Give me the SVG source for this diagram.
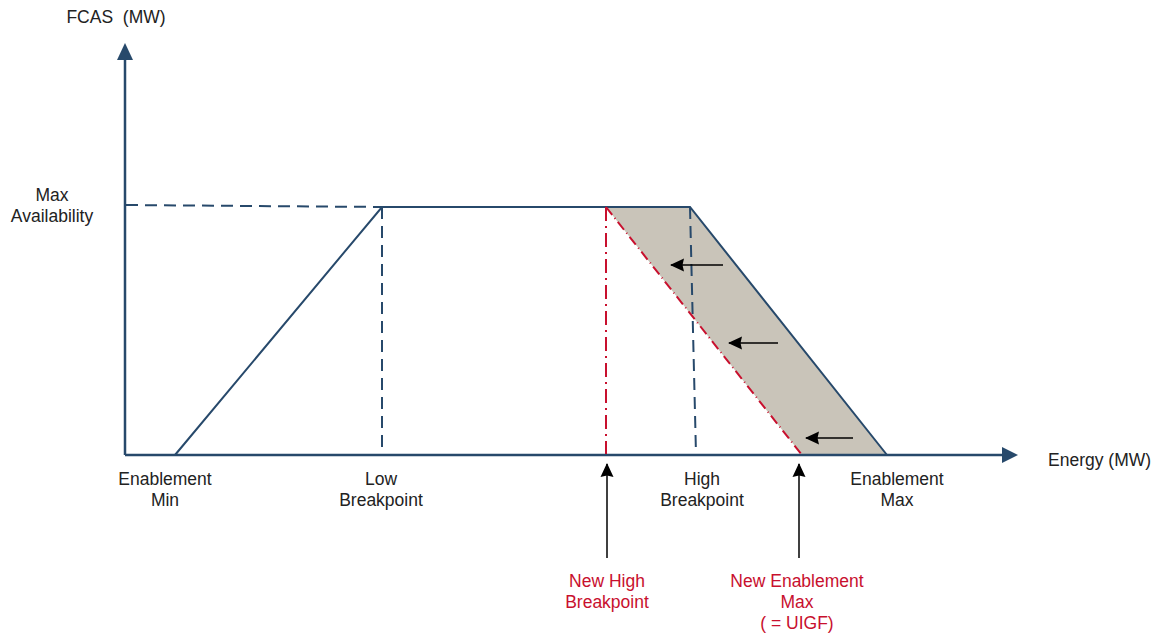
<svg xmlns="http://www.w3.org/2000/svg" width="1160" height="637" viewBox="0 0 1160 637">
<defs>
<style>
.ax{stroke:#27496b;stroke-width:2.5;fill:none}
.ln{stroke:#27496b;stroke-width:2;fill:none}
.dash{stroke:#27496b;stroke-width:2;fill:none;stroke-dasharray:12 7}
.rdd{stroke:#c8102e;stroke-width:2;fill:none;stroke-dasharray:14 5 2 5}
.rd{stroke:#c8102e;stroke-width:2;fill:none;stroke-dasharray:10 4 1 4}
.blk{stroke:#000;stroke-width:1.5;fill:none}
text{font-family:"Liberation Sans",Arial,sans-serif;font-size:17.5px;fill:#222;text-anchor:middle;white-space:pre}
text.red{fill:#c8102e}
</style>
<marker id="bh" viewBox="0 0 14 14" refX="13" refY="7" markerWidth="14" markerHeight="14" markerUnits="userSpaceOnUse" orient="auto"><path d="M0,0.5 L14,7 L0,13.5 L1.5,7 z" fill="#000"/></marker>
</defs>
<g id="shading">
<polygon points="606,207 690,207 887,455 802,455" fill="#c9c4b9"/>
</g>
<g id="axes">
<line x1="125" y1="455" x2="125" y2="59" class="ax"/>
<path d="M117,60 L125,43 L133,60 z" fill="#27496b"/>
<line x1="125" y1="455" x2="1003" y2="455" class="ax"/>
<path d="M1002,447 L1018,455 L1002,463 z" fill="#27496b"/>
</g>
<g id="connectors">
<line x1="126" y1="205" x2="382" y2="207" class="dash"/>
<polyline points="175,455 382,207 690,207 887,455" class="ln"/>
<line x1="382" y1="207" x2="382" y2="454" class="dash"/>
<line x1="690" y1="207" x2="696" y2="454" class="dash"/>
<line x1="606" y1="207" x2="606" y2="454" class="rdd"/>
<line x1="606" y1="207" x2="802" y2="455" class="rd"/>
<line x1="723" y1="265" x2="671" y2="265" class="blk" marker-end="url(#bh)"/>
<line x1="778" y1="343" x2="729" y2="343" class="blk" marker-end="url(#bh)"/>
<line x1="853" y1="438" x2="806" y2="438" class="blk" marker-end="url(#bh)"/>
<line x1="607" y1="558" x2="607" y2="464" class="blk" marker-end="url(#bh)"/>
<line x1="799" y1="558" x2="799" y2="464" class="blk" marker-end="url(#bh)"/>
</g>
<g id="label-fcas"><text x="116" y="23" xml:space="preserve">FCAS  (MW)</text></g>
<g id="label-maxavail"><text x="52" y="201">Max</text><text x="52" y="222">Availability</text></g>
<g id="label-enmin"><text x="165" y="485">Enablement</text><text x="165" y="506">Min</text></g>
<g id="label-lowbp"><text x="381" y="485">Low</text><text x="381" y="506">Breakpoint</text></g>
<g id="label-highbp"><text x="702" y="485">High</text><text x="702" y="506">Breakpoint</text></g>
<g id="label-enmax"><text x="897" y="485">Enablement</text><text x="897" y="506">Max</text></g>
<g id="label-energy"><text x="1048" y="466" style="text-anchor:start">Energy (MW)</text></g>
<g id="label-newhighbp"><text class="red" x="607" y="587">New High</text><text class="red" x="607" y="608">Breakpoint</text></g>
<g id="label-newenmax"><text class="red" x="797" y="587">New Enablement</text><text class="red" x="797" y="608">Max</text><text class="red" x="797" y="629">( = UIGF)</text></g>
</svg>
